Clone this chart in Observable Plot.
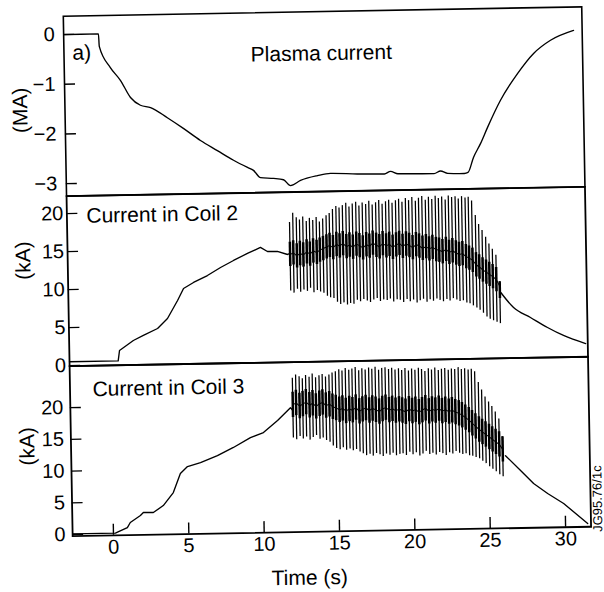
<!DOCTYPE html>
<html>
<head>
<meta charset="utf-8">
<script src="https://cdn.jsdelivr.net/npm/d3@7"></script>
<script src="https://cdn.jsdelivr.net/npm/@observablehq/plot@0.6"></script>
<style>
html, body { margin: 0; padding: 0; background: #fff; overflow: hidden; }
#fig { position: relative; width: 604px; height: 592px; transform: rotate(-1.03deg); transform-origin: 325px 275px; }
.panel { position: absolute; left: 0; }
.panel svg { overflow: visible; display: block; }
</style>
</head>
<body>
<div id="fig"></div>
<script>
// ---------- data ----------
const xTicks = [0, 5, 10, 15, 20, 25, 30];
const plasmaTicks = [0, -1, -2, -3];
const coilTicks = [0, 5, 10, 15, 20];

// Plasma current (MA)
const plasmaT = [-2.71, -0.40, -0.36, 0.35, 1.00, 1.65, 2.30, 2.97, 4.07, 5.12, 6.24, 7.35, 8.41, 9.33, 9.72, 10.18, 11.04, 11.70, 12.16, 12.83, 13.96, 14.82, 16.60, 18.40, 18.81, 19.30, 21.70, 22.13, 22.60, 23.70, 23.95, 24.33, 24.82, 25.30, 26.19, 27.35, 28.44, 29.58, 31.12];
const plasmaI = [0.00, 0.00, -0.25, -0.68, -0.94, -1.29, -1.45, -1.50, -1.71, -1.93, -2.18, -2.39, -2.59, -2.74, -2.80, -2.95, -2.97, -3.00, -3.12, -3.02, -2.93, -2.89, -2.91, -2.92, -2.87, -2.92, -2.93, -2.88, -2.93, -2.94, -2.92, -2.62, -2.34, -2.02, -1.48, -0.95, -0.55, -0.29, -0.10];

// Coil 2 (kA): smooth parts before and after the oscillation
const coil2PreT = [-2.71, 0.52, 0.62, 1.55, 2.22, 3.17, 3.84, 4.53, 4.94, 5.61, 6.54, 7.42, 8.29, 9.22, 10.09, 10.55, 11.21, 11.88, 12.02];
const coil2PreI = [0.50, 0.50, 1.87, 3.15, 3.79, 4.67, 5.96, 8.31, 9.87, 10.64, 11.52, 12.55, 13.44, 14.33, 15.09, 14.54, 14.52, 14.10, 14.20];
const coil2PostT = [25.98, 26.81, 27.92, 29.04, 30.09, 31.55];
const coil2PostI = [8.60, 6.59, 5.24, 3.88, 2.79, 1.68];

// Coil 3 (kA)
const coil3PreT = [-2.71, 0.13, 0.27, 0.93, 1.13, 1.81, 2.01, 2.67, 3.34, 4.02, 4.51, 4.99, 5.86, 6.99, 8.06, 9.20, 10.07, 11.02, 11.89, 12.02];
const coil3PreI = [0.10, 0.10, 0.25, 0.95, 1.73, 2.80, 3.27, 3.24, 4.31, 6.33, 9.30, 10.39, 10.98, 12.03, 13.26, 14.77, 15.52, 17.37, 19.37, 19.00];
const coil3PostT = [26.10, 27.08, 27.93, 28.85, 29.90, 31.47];
const coil3PostI = [11.20, 8.82, 6.74, 5.12, 3.50, 0.28];

// Oscillation spikes (times, peak, trough, centre of dense band)
const spikeT = [12.05, 12.27, 12.50, 12.71, 12.93, 13.16, 13.37, 13.59, 13.82, 14.03,
  14.25, 14.48, 14.69, 14.91, 15.14, 15.35, 15.57, 15.80, 16.01, 16.23,
  16.46, 16.67, 16.89, 17.12, 17.33, 17.55, 17.78, 17.99, 18.21, 18.44,
  18.65, 18.87, 19.10, 19.31, 19.53, 19.76, 19.97, 20.19, 20.42, 20.63,
  20.85, 21.08, 21.29, 21.51, 21.74, 21.95, 22.17, 22.40, 22.61, 22.83,
  23.06, 23.27, 23.49, 23.72, 23.93, 24.15, 24.38, 24.59, 24.81, 25.04,
  25.25, 25.47, 25.70, 25.92];
const coil2Hi = [18.3, 19.5, 18.9, 18.6, 19.0, 18.4, 18.8, 18.5, 18.9, 18.3, 18.7,
  19.1, 19.4, 19.9, 20.3, 20.1,
  20.4, 20.7, 20.2, 20.6, 20.8, 20.3, 20.7, 20.5, 20.9, 20.4, 20.7, 21.0, 20.5, 20.8, 21.0, 20.6, 20.9,
  21.1, 20.7, 21.2, 20.9, 21.3, 20.8, 21.2, 21.4, 20.9, 21.3, 21.0, 21.4, 21.1, 21.3, 20.9, 21.4, 21.2, 21.3, 21.0, 21.3, 21.1, 21.2, 20.7,
  18.8, 17.6, 16.8, 15.9, 15.0, 14.3, 13.5, 10.0];
const coil2Lo = [9.3, 9.0, 9.5, 9.1, 9.4, 9.2, 9.6, 9.0, 9.3, 9.1, 8.9,
  8.5, 8.3, 8.2,
  7.7, 7.4, 7.6, 7.3, 7.5, 7.4,
  7.9, 7.7, 8.0, 7.8, 7.6, 7.9, 8.1, 7.7, 7.9, 7.8, 8.0, 7.6, 7.9,
  7.8, 7.5, 7.9, 7.6, 7.8, 7.4, 7.7, 7.9, 7.5, 7.8, 7.6, 7.9, 7.7, 7.5, 7.8, 7.6, 7.9, 7.7, 7.5, 7.6, 7.3, 7.2, 6.9,
  6.6, 6.3, 5.9, 5.4, 5.1, 4.9, 4.7, 4.5];
const coil2Mid = [14.1, 14.3, 13.9, 14.2, 14.0, 14.4, 14.1, 14.5, 14.3, 14.6,
  14.8, 15.0, 15.2, 14.9, 15.3, 15.1, 15.4, 15.0, 15.2, 14.9,
  15.3, 15.1, 14.8, 15.2, 15.0, 15.4, 15.1, 14.9, 15.3, 15.0,
  15.2, 14.8, 15.1, 15.3, 14.9, 15.2, 15.0, 14.7, 15.1, 14.9,
  14.6, 14.8, 14.5, 14.7, 14.4,
  14.3, 14.1, 14.4, 14.0, 14.2, 13.9, 13.7, 13.8, 13.4, 13.2, 12.9,
  12.3, 12.0, 11.6, 11.3, 11.0, 10.7, 10.3, 9.4];
const coil3Hi = [24.0, 24.5, 24.2, 23.9, 24.4, 24.1, 24.6, 24.0, 24.3, 24.5, 24.1, 24.4,
  24.7, 24.9,
  25.2, 25.0, 25.4, 25.1, 25.3, 25.5, 25.0, 25.3, 25.1, 25.4, 25.2, 25.5, 25.0, 25.3, 25.4, 25.1, 25.3, 25.0, 25.2,
  24.9, 25.2, 24.8, 25.1, 24.9, 25.2, 25.0, 24.7, 25.1, 24.9, 25.2, 24.8, 25.0, 25.1, 24.8, 25.0, 24.9, 25.2, 24.9, 25.0, 24.8, 24.9, 24.5,
  22.8, 21.6, 20.5, 19.7, 19.0, 18.1, 17.0, 14.2];
const coil3Lo = [14.6, 14.3, 14.8, 14.4, 14.7, 14.2, 14.6, 14.9, 14.3, 14.5, 14.1, 13.8,
  13.2, 12.8, 12.6, 12.9, 12.5, 12.7, 12.4, 12.6, 12.2,
  11.9, 11.6, 11.8, 11.5, 11.9, 11.7, 11.4, 11.8, 11.6, 11.9, 11.5, 11.7,
  11.8, 11.5, 12.0, 11.6, 11.9, 11.4, 11.7, 12.1, 11.6, 11.8, 11.5, 11.9, 11.7, 11.4, 11.8, 11.6, 12.0, 11.7, 11.5, 11.6, 11.3, 11.2, 11.0,
  10.8, 10.4, 10.0, 9.5, 9.1, 8.7, 8.2, 7.9];
const coil3Mid = [19.8, 20.1, 19.6, 19.9, 20.2, 19.7, 20.0, 19.5, 19.9, 20.1, 19.6, 19.8, 19.4, 19.2,
  18.9, 19.1, 18.7, 19.0, 18.8, 19.2, 18.6, 18.9, 19.1, 18.7, 19.0, 18.8, 18.5, 18.9, 19.1, 18.7, 18.9, 18.6, 18.8,
  18.6, 18.4, 18.8, 18.5, 18.7, 18.3, 18.6, 18.9, 18.4, 18.7, 18.5, 18.8, 18.4, 18.6, 18.3, 18.5, 18.2, 18.0, 17.7, 17.3, 16.9, 16.4, 15.9,
  15.4, 15.0, 14.6, 14.2, 13.8, 13.4, 13.0, 12.2];

// ---------- build ----------
const pairs = (T, V) => T.map((t, i) => [t, V[i]]);
const spikes = (hi, lo, mid) => spikeT.map((t, i) => ({t, hi: hi[i], lo: lo[i], mid: mid[i]}));
const coil2Spikes = spikes(coil2Hi, coil2Lo, coil2Mid);
const coil3Spikes = spikes(coil3Hi, coil3Lo, coil3Mid);

const FONT = "'Liberation Sans', Arial, Helvetica, sans-serif";
const xDomain = [-2.71, 31.69];
const W = 604, ML = 67.5, MR = 18;
const FW = W - ML - MR;        // frame width in px
const TICK = 11;               // inward tick length in px
const style = {fontFamily: FONT, fontSize: "20px", color: "black", background: "transparent", overflow: "visible"};
const LW = 1.35;
const fmt = d3.format("d");

function oscillation(data, band) {
  return [
    Plot.ruleX(data, {x: "t", y1: "lo", y2: "hi", stroke: "black", strokeWidth: 1.25}),
    Plot.ruleX(data, {x: "t", y1: d => Math.max(d.lo, d.mid - band), y2: d => Math.min(d.hi, d.mid + band), stroke: "black", strokeWidth: 2.5}),
    Plot.line(data, {x: "t", y: "mid", stroke: "black", strokeWidth: 1})
  ];
}
const seg = (T, V, curve = "linear") => Plot.line(pairs(T, V), {x: d => d[0], y: d => d[1], stroke: "black", strokeWidth: LW, curve});
const yAxis = (ticks, gap) => [
  Plot.tickY(ticks, {y: d => d, insetRight: FW - TICK, stroke: "black", strokeWidth: 1.4}),
  Plot.axisY({ticks, tickSize: 0, tickPadding: gap, tickFormat: fmt, label: null})
];
const rotLabel = (txt, dx, dy) => Plot.text([txt], {text: d => d, frameAnchor: "left", dx, dy, rotate: -90, textAnchor: "middle", lineAnchor: "middle", fontSize: 21});

const p1 = Plot.plot({
  width: W, height: 201, marginLeft: ML, marginRight: MR, marginTop: 11, marginBottom: 10,
  x: {domain: xDomain, axis: null},
  y: {domain: [-3.251, 0.370]},
  style,
  marks: [
    ...yAxis(plasmaTicks, 9),
    seg(plasmaT, plasmaI, "monotone-x"),
    Plot.frame({stroke: "black", strokeWidth: 1.6}),
    Plot.text(["a)"], {text: d => d, frameAnchor: "top-left", dx: 8.5, dy: 37, textAnchor: "start", lineAnchor: "middle", fontSize: 21}),
    Plot.text(["Plasma current"], {text: d => d, frameAnchor: "top", dx: -2, dy: 42, textAnchor: "middle", lineAnchor: "middle", fontSize: 21}),
    rotLabel("(MA)", -44.5, 3.5)
  ]
});

const p2 = Plot.plot({
  width: W, height: 190, marginLeft: ML, marginRight: MR, marginTop: 10, marginBottom: 10,
  x: {domain: xDomain, axis: null},
  y: {domain: [-0.07, 22.3]},
  style,
  marks: [
    ...yAxis(coilTicks, 3.5),
    seg(coil2PreT, coil2PreI),
    ...oscillation(coil2Spikes, 1.6),
    seg(coil2PostT, coil2PostI, "monotone-x"),
    Plot.frame({stroke: "black", strokeWidth: 1.8}),
    Plot.text(["Current in Coil 2"], {text: d => d, frameAnchor: "top-left", dx: 19.5, dy: 20.3, textAnchor: "start", lineAnchor: "middle", fontSize: 21}),
    rotLabel("(kA)", -44.2, -21.4)
  ]
});

const p3 = Plot.plot({
  width: W, height: 241, marginLeft: ML, marginRight: MR, marginTop: 10, marginBottom: 61,
  x: {domain: xDomain},
  y: {domain: [-0.24, 26.54]},
  style,
  marks: [
    ...yAxis(coilTicks, 7),
    Plot.tickX(xTicks, {x: d => d, insetTop: 170 - TICK, stroke: "black", strokeWidth: 1.4}),
    Plot.axisX({ticks: xTicks, tickSize: 0, tickPadding: 4, tickFormat: fmt, label: null}),
    seg(coil3PreT, coil3PreI),
    ...oscillation(coil3Spikes, 2.0),
    seg(coil3PostT, coil3PostI),
    Plot.frame({stroke: "black", strokeWidth: 1.8}),
    Plot.text(["Current in Coil 3"], {text: d => d, frameAnchor: "top-left", dx: 22.5, dy: 23.7, textAnchor: "start", lineAnchor: "middle", fontSize: 21}),
    rotLabel("(kA)", -43.6, -5.4),
    Plot.text(["Time (s)"], {text: d => d, frameAnchor: "bottom", dx: -23, dy: 46, textAnchor: "middle", lineAnchor: "middle", fontSize: 21}),
    Plot.text(["JG95.76/1c"], {text: d => d, frameAnchor: "right", dx: 7, dy: 57, rotate: -90, textAnchor: "middle", lineAnchor: "middle", fontSize: 13})
  ]
});

const fig = document.getElementById("fig");
[[0, p1], [181, p2], [351, p3]].forEach(([top, svg]) => {
  const d = document.createElement("div");
  d.className = "panel";
  d.style.top = top + "px";
  d.appendChild(svg);
  fig.appendChild(d);
});
</script>
</body>
</html>
